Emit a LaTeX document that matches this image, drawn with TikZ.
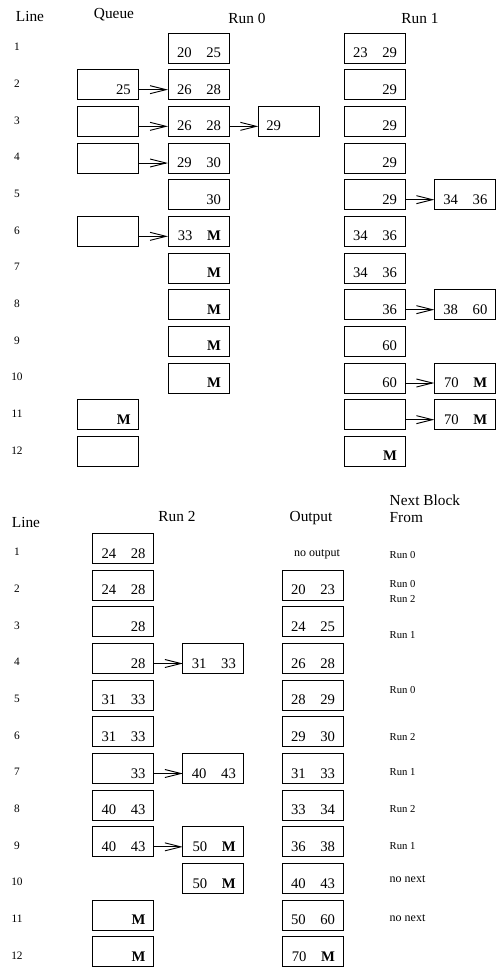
\documentclass[tikz,border=0pt]{standalone}
\usepackage{fontspec}
\setmainfont{Liberation Serif}
\usetikzlibrary{arrows.meta,positioning}

\begin{document}
\begin{tikzpicture}[
  x=0.75pt, y=-0.75pt,
  node distance=5pt and 22pt,
  blk/.style={draw, line width=0.7pt, outer sep=0pt, minimum height=22.5pt, text width=33.75pt, inner xsep=6pt, inner ysep=0pt, align=right, text height=14.3pt, text depth=0pt, font=\fontsize{11}{13}\selectfont},
  blkl/.style={blk, align=left},
  hd/.style={font=\fontsize{11.5}{13}\selectfont},
  num/.style={font=\fontsize{8.5}{10}\selectfont},
  nxt/.style={anchor=west, font=\fontsize{8}{9}\selectfont},
  nno/.style={font=\fontsize{9}{10}\selectfont},
  arr/.style={-{Straight Barb[length=12pt,width=6pt]}, line width=0.7pt}]
\useasboundingbox (0,0) rectangle (496,968);
% upper table
\node[hd] (hline) at (30,16) {Line};
\node[hd] (hqueue) at (114,15) {Queue};
\node[hd] (hrun0) at (247,18) {Run 0};
\node[hd] (hrun1) at (420,19) {Run 1};
\node[num] (la1) at (17,47) {1}; \node[num] (la2) at (17,83.7) {2}; \node[num] (la3) at (17,120.3) {3};
\node[num] (la4) at (17,157) {4}; \node[num] (la5) at (17,193.7) {5}; \node[num] (la6) at (17,230.3) {6};
\node[num] (la7) at (17,267) {7}; \node[num] (la8) at (17,303.7) {8}; \node[num] (la9) at (17,340.3) {9};
\node[num] (la10) at (17,377) {10}; \node[num] (la11) at (17,413.7) {11}; \node[num] (la12) at (17,450.3) {12};
\node[blk] (r0a) at (198.5,48) {20\quad 25};
\node[blk, below=of r0a] (r0b) {26\quad 28};
\node[blk, below=of r0b] (r0c) {26\quad 28};
\node[blk, below=of r0c] (r0d) {29\quad 30};
\node[blk, below=of r0d] (r0e) {30};
\node[blk, below=of r0e] (r0f) {33\quad \textbf{M}};
\node[blk, below=of r0f] (r0g) {\textbf{M}};
\node[blk, below=of r0g] (r0h) {\textbf{M}};
\node[blk, below=of r0h] (r0i) {\textbf{M}};
\node[blk, below=of r0i] (r0j) {\textbf{M}};
\node[blkl, right=of r0c] (o0c) {29};
\node[blk] (r1a) at (374.5,48) {23\quad 29};
\node[blk, below=of r1a] (r1b) {29};
\node[blk, below=of r1b] (r1c) {29};
\node[blk, below=of r1c] (r1d) {29};
\node[blk, below=of r1d] (r1e) {29};
\node[blk, below=of r1e] (r1f) {34\quad 36};
\node[blk, below=of r1f] (r1g) {34\quad 36};
\node[blk, below=of r1g] (r1h) {36};
\node[blk, below=of r1h] (r1i) {60};
\node[blk, below=of r1i] (r1j) {60};
\node[blk, below=of r1j] (r1k) {};
\node[blk, below=of r1k] (r1l) {\textbf{M}};
\node[blk, right=of r1e] (o1e) {34\quad 36};
\node[blk, right=of r1h] (o1h) {38\quad 60};
\node[blk, right=of r1j] (o1j) {70\quad \textbf{M}};
\node[blk, right=of r1k] (o1k) {70\quad \textbf{M}};
\node[blk, left=of r0b] (qb) {25};
\node[blk, left=of r0c] (qc) {};
\node[blk, left=of r0d] (qd) {};
\node[blk, left=of r0f] (qf) {};
\node[blk] (qk) at (qf |- r1k) {\textbf{M}};
\node[blk] (ql) at (qf |- r1l) {};
\draw[arr] ([yshift=-3.75pt]qb.east) -- ([yshift=-3.75pt]r0b.west);
\draw[arr] ([yshift=-3.75pt]qc.east) -- ([yshift=-3.75pt]r0c.west);
\draw[arr] ([yshift=-3.75pt]qd.east) -- ([yshift=-3.75pt]r0d.west);
\draw[arr] ([yshift=-3.75pt]qf.east) -- ([yshift=-3.75pt]r0f.west);
\draw[arr] ([yshift=-3.75pt]r0c.east) -- ([yshift=-3.75pt]o0c.west);
\draw[arr] ([yshift=-3.75pt]r1e.east) -- ([yshift=-3.75pt]o1e.west);
\draw[arr] ([yshift=-3.75pt]r1h.east) -- ([yshift=-3.75pt]o1h.west);
\draw[arr] ([yshift=-3.75pt]r1j.east) -- ([yshift=-3.75pt]o1j.west);
\draw[arr] ([yshift=-3.75pt]r1k.east) -- ([yshift=-3.75pt]o1k.west);
% lower table
\node[hd] (hline2) at (26,522) {Line};
\node[hd] (hrun2) at (177,516) {Run 2};
\node[hd] (hout) at (311,518) {Output};
\node[hd, anchor=west] (hnext) at (385,500) {Next Block};
\node[hd, anchor=west] (hfrom) at (385,518) {From};
\node[num] (lb1) at (17,552) {1}; \node[num] (lb2) at (17,588.7) {2}; \node[num] (lb3) at (17,625.3) {3};
\node[num] (lb4) at (17,662) {4}; \node[num] (lb5) at (17,698.7) {5}; \node[num] (lb6) at (17,735.3) {6};
\node[num] (lb7) at (17,772) {7}; \node[num] (lb8) at (17,808.7) {8}; \node[num] (lb9) at (17,845.3) {9};
\node[num] (lb10) at (17,882) {10}; \node[num] (lb11) at (17,918.7) {11}; \node[num] (lb12) at (17,955.3) {12};
\node[nno] (nout) at (317,554) {no output};
\node[blk] (outb) at (312.5,585.2) {20\quad 23};
\node[blk, below=of outb] (outc) {24\quad 25};
\node[blk, below=of outc] (outd) {26\quad 28};
\node[blk, below=of outd] (oute) {28\quad 29};
\node[blk, below=of oute] (outf) {29\quad 30};
\node[blk, below=of outf] (outg) {31\quad 33};
\node[blk, below=of outg] (outh) {33\quad 34};
\node[blk, below=of outh] (outi) {36\quad 38};
\node[blk, below=of outi] (outj) {40\quad 43};
\node[blk, below=of outj] (outk) {50\quad 60};
\node[blk, below=of outk] (outl) {70\quad \textbf{M}};
\node[blk] (r2a) at (123,548.5) {24\quad 28};
\node[blk, below=of r2a] (r2b) {24\quad 28};
\node[blk, below=of r2b] (r2c) {28};
\node[blk, below=of r2c] (r2d) {28};
\node[blk, below=of r2d] (r2e) {31\quad 33};
\node[blk, below=of r2e] (r2f) {31\quad 33};
\node[blk, below=of r2f] (r2g) {33};
\node[blk, below=of r2g] (r2h) {40\quad 43};
\node[blk, below=of r2h] (r2i) {40\quad 43};
\node[blk] (r2k) at (r2a |- outk) {\textbf{M}};
\node[blk] (r2l) at (r2a |- outl) {\textbf{M}};
\node[blk, right=of r2d] (o2d) {31\quad 33};
\node[blk, right=of r2g] (o2g) {40\quad 43};
\node[blk, right=of r2i] (o2i) {50\quad \textbf{M}};
\node[blk, below=of o2i] (o2j) {50\quad \textbf{M}};
\draw[arr] ([yshift=-3.75pt]r2d.east) -- ([yshift=-3.75pt]o2d.west);
\draw[arr] ([yshift=-3.75pt]r2g.east) -- ([yshift=-3.75pt]o2g.west);
\draw[arr] ([yshift=-3.75pt]r2i.east) -- ([yshift=-3.75pt]o2i.west);
\node[nxt] (n1) at (385,555) {Run 0};
\node[nxt] (n2) at (385,584) {Run 0};
\node[nxt] (n3) at (385,599) {Run 2};
\node[nxt] (n4) at (385,635) {Run 1};
\node[nxt] (n5) at (385,690) {Run 0};
\node[nxt] (n6) at (385,737) {Run 2};
\node[nxt] (n7) at (385,772) {Run 1};
\node[nxt] (n8) at (385,809) {Run 2};
\node[nxt] (n9) at (385,846) {Run 1};
\node[nxt, nno] (n10) at (385,879) {no next};
\node[nxt, nno] (n11) at (385,918) {no next};
\end{tikzpicture}
\end{document}
